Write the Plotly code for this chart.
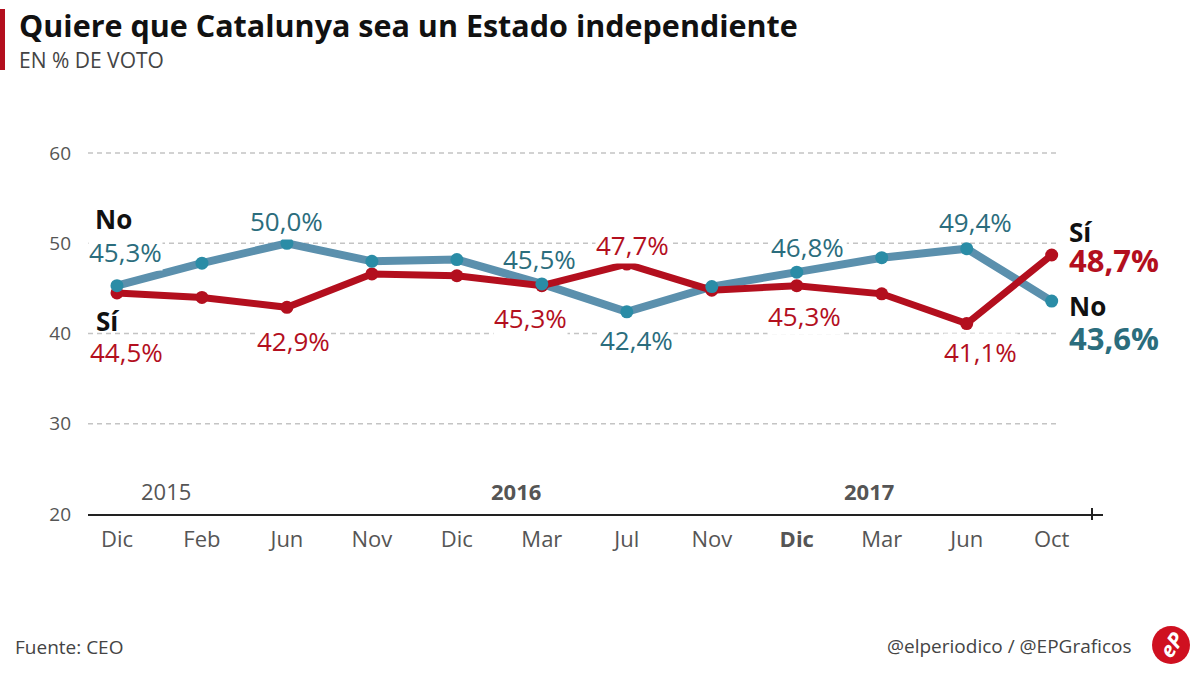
import plotly.graph_objects as go

# Datos: encuesta CEO, "Quiere que Catalunya sea un Estado independiente"
meses = ["Dic", "Feb", "Jun", "Nov", "Dic", "Mar", "Jul", "Nov", "Dic", "Mar", "Jun", "Oct"]
no_vals = [45.3, 47.8, 50.0, 48.0, 48.2, 45.5, 42.4, 45.2, 46.8, 48.4, 49.4, 43.6]
si_vals = [44.5, 44.0, 42.9, 46.6, 46.4, 45.3, 47.7, 44.8, 45.3, 44.4, 41.1, 48.7]
anios = ["2015", "2016", "2017"]
y_ticks = [20, 30, 40, 50, 60]

# Colores
ROJO = "#b30f1e"
AZUL_LINEA = "#5b90ad"
AZUL_PUNTO = "#2a8ca6"
AZUL_TEXTO = "#2b6d7d"
GRIS = "#555555"
FUENTE = "Open Sans"

# Márgenes en píxeles (se quita el margen del body en la página)
W, H = 1200, 675
L, R, T, B = 88, 97, 135, 161
PW, PH = W - L - R, H - T - B
UX = 84.97   # píxeles por categoría
UY = PH / 42  # píxeles por punto porcentual


def px(x):
    return (x - L) / PW


def py(y):
    return (H - B - y) / PH


x = list(range(len(meses)))
ticktext = [f"<b>{m}</b>" if i == 8 else m for i, m in enumerate(meses)]

fig = go.Figure()

# Línea azul (No) por debajo, luego la roja (Sí), y los puntos azules encima
fig.add_trace(go.Scatter(x=x, y=no_vals, mode="lines",
                         line=dict(color=AZUL_LINEA, width=8), hoverinfo="skip"))
fig.add_trace(go.Scatter(x=x, y=si_vals, mode="lines+markers",
                         line=dict(color=ROJO, width=7),
                         marker=dict(size=13, color=ROJO), hoverinfo="skip"))
fig.add_trace(go.Scatter(x=x, y=no_vals, mode="markers",
                         marker=dict(size=13, color=AZUL_PUNTO), hoverinfo="skip"))


def fmt(v):
    return f"{v:.1f}".replace(".", ",") + "%"


anots = []
shapes = []

# Líneas de guía punteadas
for v in y_ticks[1:]:
    shapes.append(dict(type="line", xref="paper", yref="y", x0=0, x1=px(1060), y0=v, y1=v,
                       line=dict(color="#c4c4c4", width=1.5, dash="5px,4px"), layer="below"))

# Etiquetas de valores: índice -> (desplazamiento x, desplazamiento y, fondo)
etiquetas_no = {2: (0, 22, "box"), 5: (-2, 25, "rect"), 6: (10, -28, "box"),
                8: (11, 25, "rect"), 10: (9, 27, "box")}
etiquetas_si = {2: (7, -34, "box"), 5: (-11, -32, "box"), 6: (6, 19, "box"),
                8: (8, -30, "box"), 10: (14, -28, "box")}

for vals, etiquetas, color in [(no_vals, etiquetas_no, AZUL_TEXTO), (si_vals, etiquetas_si, ROJO)]:
    for i, (dx, dy, fondo) in etiquetas.items():
        anots.append(dict(x=i, y=vals[i], text=fmt(vals[i]), showarrow=False,
                          xshift=dx, yshift=dy,
                          bgcolor="white" if fondo == "box" else None, borderpad=0,
                          font=dict(family=FUENTE, size=26, color=color)))
        if fondo == "rect":
            # tapa la línea de guía sin tapar las líneas de datos
            shapes.append(dict(type="rect", xref="x", yref="y", layer="below",
                               x0=i + (dx - 39) / UX, x1=i + (dx + 39) / UX,
                               y0=vals[i] + (dy - 13) / UY, y1=vals[i] + (dy + 13) / UY,
                               fillcolor="white", line=dict(width=0)))

# Grupo izquierdo
anots += [
    dict(x=0, y=no_vals[0], text="No", showarrow=False, xanchor="left",
         xshift=-24, yshift=67, font=dict(family=FUENTE, size=26, color="#111", weight=700)),
    dict(x=0, y=no_vals[0], text=fmt(no_vals[0]), showarrow=False, xanchor="left",
         xshift=-29, yshift=34, bgcolor="white", borderpad=0,
         font=dict(family=FUENTE, size=26, color=AZUL_TEXTO)),
    dict(x=0, y=si_vals[0], text="Sí", showarrow=False, xanchor="left",
         xshift=-23, yshift=-28, font=dict(family=FUENTE, size=26, color="#111", weight=700)),
    dict(x=0, y=si_vals[0], text=fmt(si_vals[0]), showarrow=False, xanchor="left",
         xshift=-29, yshift=-59, font=dict(family=FUENTE, size=26, color=ROJO)),
]

# Grupo derecho
ult = len(meses) - 1
anots += [
    dict(x=ult, y=si_vals[ult], text="Sí", showarrow=False, xanchor="left",
         xshift=15, yshift=23, font=dict(family=FUENTE, size=26, color="#111", weight=700)),
    dict(x=ult, y=si_vals[ult], text=fmt(si_vals[ult]), showarrow=False, xanchor="left",
         xshift=15, yshift=-5, font=dict(family=FUENTE, size=31, color=ROJO, weight=700)),
    dict(x=ult, y=no_vals[ult], text="No", showarrow=False, xanchor="left",
         xshift=15, yshift=-5, font=dict(family=FUENTE, size=26, color="#111", weight=700)),
    dict(x=ult, y=no_vals[ult], text=fmt(no_vals[ult]), showarrow=False, xanchor="left",
         xshift=15, yshift=-37, font=dict(family=FUENTE, size=31, color=AZUL_TEXTO, weight=700)),
]

# Años sobre el eje
for texto, xpos, peso in zip(anios, [0.58, 4.7, 8.85], [400, 700, 700]):
    anots.append(dict(x=xpos, y=22.5, text=texto, showarrow=False,
                      font=dict(family=FUENTE, size=22, color=GRIS, weight=peso)))

# Título, subtítulo y pie
anots += [
    dict(xref="paper", yref="paper", x=px(18), y=py(25), xanchor="left", yanchor="middle",
         text="Quiere que Catalunya sea un Estado independiente", showarrow=False,
         borderpad=0, font=dict(family=FUENTE, size=30.5, color="#111", weight=700)),
    dict(xref="paper", yref="paper", x=px(18), y=py(60), xanchor="left", yanchor="middle",
         text="EN % DE VOTO", showarrow=False, borderpad=0,
         font=dict(family=FUENTE, size=21, color="#444")),
    dict(xref="paper", yref="paper", x=px(13), y=py(647), xanchor="left", yanchor="middle",
         text="Fuente: CEO", showarrow=False,
         font=dict(family=FUENTE, size=19, color="#444")),
    dict(xref="paper", yref="paper", x=px(1134), y=py(646), xanchor="right", yanchor="middle",
         text="@elperiodico / @EPGraficos", showarrow=False,
         font=dict(family=FUENTE, size=19, color="#444")),
    dict(xref="paper", yref="paper", x=px(1171), y=py(645), xanchor="center", yanchor="middle",
         text="<i>eP</i>", showarrow=False, textangle=-55,
         font=dict(family=FUENTE, size=21, color="white", weight=700)),
]

# Marca final del eje
shapes.append(dict(type="line", xref="paper", yref="paper", x0=px(1092), x1=px(1092),
                   y0=py(520), y1=py(508), line=dict(color="#222", width=2)))
# Barra roja del título
shapes.append(dict(type="rect", xref="paper", yref="paper", x0=px(0), x1=px(5),
                   y0=py(70), y1=py(9), fillcolor=ROJO, line=dict(width=0)))
# Logo
shapes.append(dict(type="circle", xref="paper", yref="paper", x0=px(1152), x1=px(1190),
                   y0=py(664), y1=py(626), fillcolor="#cf1020", line=dict(width=0)))

fig.update_layout(
    width=W, height=H,
    margin=dict(l=L, r=R, t=T, b=B),
    paper_bgcolor="white", plot_bgcolor="white",
    showlegend=False,
    annotations=anots,
    shapes=shapes,
    xaxis=dict(range=[-0.341, 11.604], tickvals=x, ticktext=ticktext,
               tickfont=dict(family=FUENTE, size=22, color=GRIS),
               showgrid=False, zeroline=False, showline=True,
               linecolor="#222", linewidth=2, ticks="", ticklabelstandoff=5),
    yaxis=dict(range=[20, 62], tickvals=y_ticks,
               tickfont=dict(family=FUENTE, size=19, color=GRIS),
               showgrid=False, zeroline=False, showline=False,
               ticks="", ticklabelstandoff=16),
)

# Sin margen en el body, para que el gráfico ocupe la ventana justa; sin barra de herramientas
fig.write_html("out.html", config={"displayModeBar": False},
               post_script="document.body.style.margin = '0';")
